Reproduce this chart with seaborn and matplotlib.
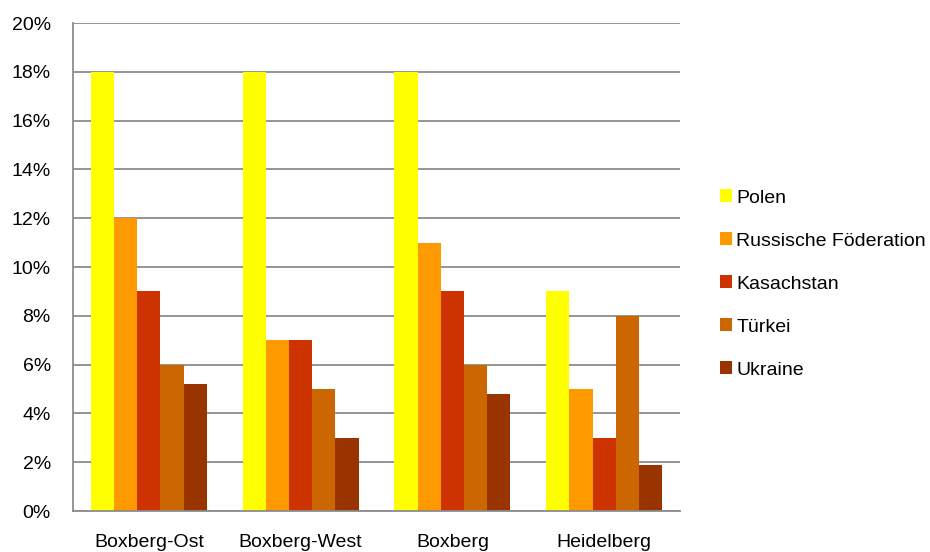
import matplotlib
matplotlib.use("Agg")
import matplotlib.pyplot as plt
from matplotlib.patches import Patch
from matplotlib.ticker import FixedLocator
import seaborn as sns
import pandas as pd

# Share of residents by country of origin, per district (percent)
districts = ["Boxberg-Ost", "Boxberg-West", "Boxberg", "Heidelberg"]
countries = ["Polen", "Russische Föderation", "Kasachstan", "Türkei", "Ukraine"]
polen = [18, 18, 18, 9]
russland = [12, 7, 11, 5]
kasachstan = [9, 7, 9, 3]
tuerkei = [6, 5, 6, 8]
ukraine = [5.2, 3.0, 4.8, 1.9]
colors = ["#FFFF00", "#FF9900", "#CC3300", "#CC6600", "#993300"]
y_ticks = [0, 2, 4, 6, 8, 10, 12, 14, 16, 18, 20]

series = [polen, russland, kasachstan, tuerkei, ukraine]
rows = []
for country, vals in zip(countries, series):
    for district, v in zip(districts, vals):
        rows.append({"Stadtteil": district, "Herkunft": country, "Anteil": v})
df = pd.DataFrame(rows)

sns.set_style("white")
plt.rcParams["font.family"] = ["Liberation Sans", "DejaVu Sans"]
plt.rcParams["text.color"] = "black"
plt.rcParams["xtick.labelcolor"] = "black"
plt.rcParams["ytick.labelcolor"] = "black"

fig = plt.figure(figsize=(9.3, 5.52), dpi=100)
ax = fig.add_axes([73 / 930, 1 - 511 / 552, (680 - 73) / 930, (511 - 23) / 552])

sns.barplot(data=df, x="Stadtteil", y="Anteil", hue="Herkunft",
            order=districts, hue_order=countries, palette=colors, saturation=1,
            width=0.765, linewidth=0, edgecolor="none", legend=False, ax=ax)

grid_color = "#8C8C8C"
ax.set_ylim(0, 20)
ax.set_xlim(-0.5, len(districts) - 0.5)
ax.set_yticks(y_ticks)
ax.set_yticklabels([f"{t}%" for t in y_ticks])
ax.yaxis.grid(True, color=grid_color, linewidth=1.3)
ax.set_axisbelow(True)

ax.xaxis.set_minor_locator(FixedLocator([i - 0.5 for i in range(len(districts) + 1)]))
ax.tick_params(axis="x", which="major", length=0, pad=16.5, labelsize=14, labelcolor="black")
ax.tick_params(axis="x", which="minor", length=6, width=1.3, color=grid_color, direction="out")
ax.tick_params(axis="y", length=6, width=1.3, color=grid_color, direction="out", pad=10,
               labelsize=14, labelcolor="black")
ax.set_xlabel("")
ax.set_ylabel("")

for side in ["top", "right"]:
    ax.spines[side].set_visible(False)
for side in ["left", "bottom"]:
    ax.spines[side].set_color(grid_color)
    ax.spines[side].set_linewidth(1.3)

handles = [Patch(facecolor=c, edgecolor="none") for c in colors]
fig.legend(handles, countries, loc="center left", bbox_to_anchor=(712 / 930, 1 - 284 / 552),
           frameon=False, fontsize=14, handlelength=0.65, handleheight=0.65,
           handletextpad=0.2, labelspacing=1.32, borderaxespad=0, labelcolor="black")

fig.savefig("out.png", dpi=100)
